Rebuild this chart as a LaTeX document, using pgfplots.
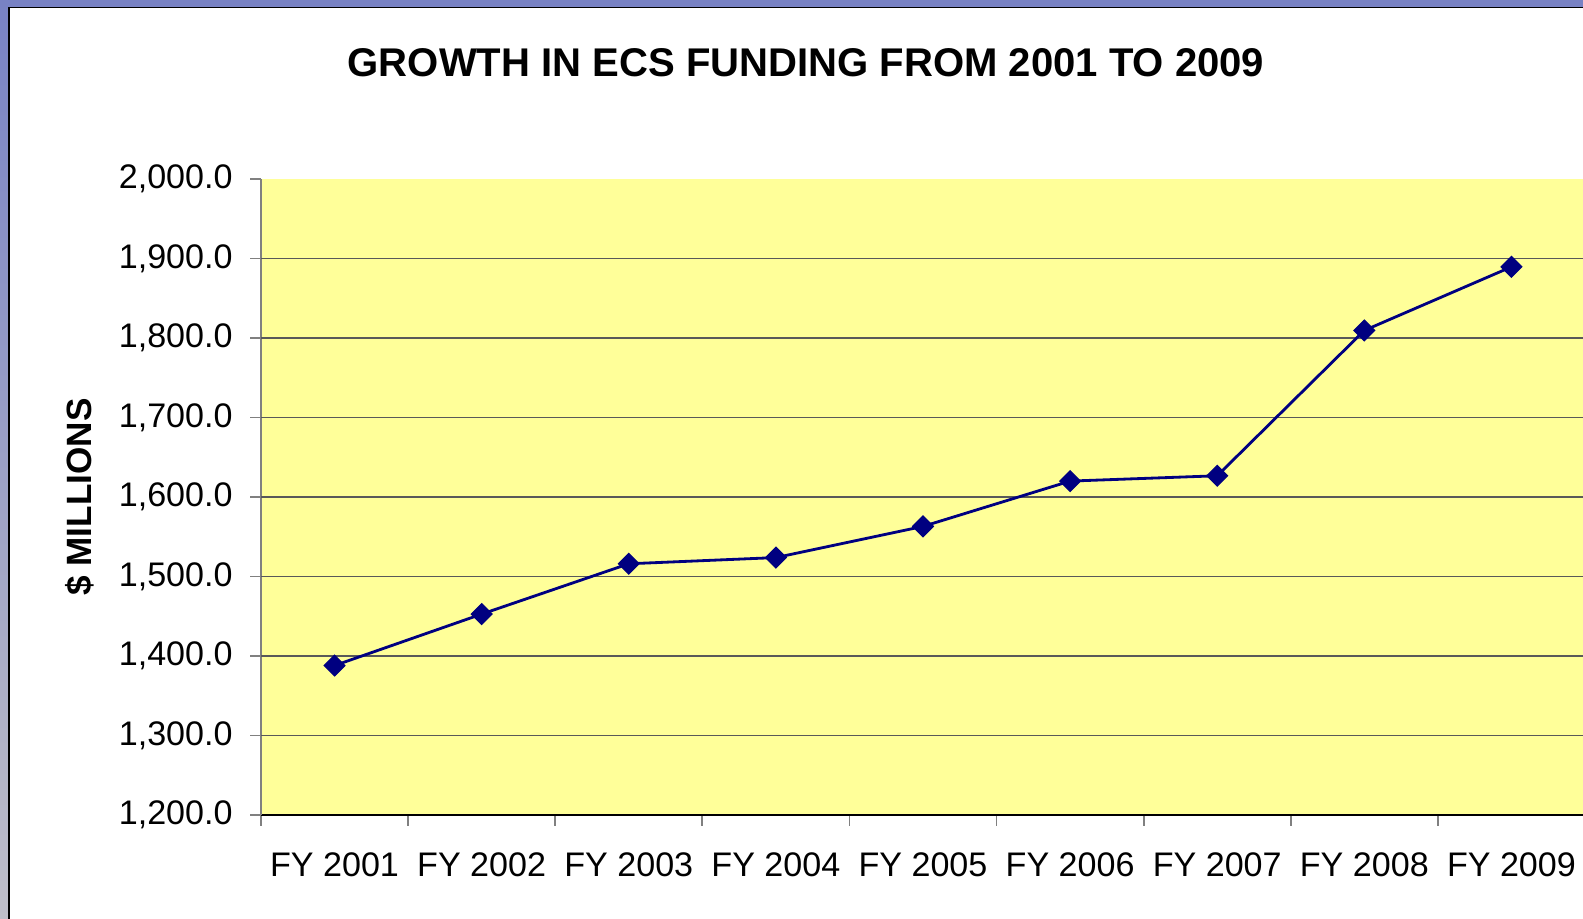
\documentclass[border=0pt]{standalone}
\usepackage{fontspec}
\setmainfont{Liberation Sans}
\usepackage{pgfplots}
\pgfplotsset{compat=1.18}

\definecolor{plotbg}{RGB}{255,255,153}
\definecolor{series}{RGB}{0,0,128}
\definecolor{framebl}{RGB}{120,130,196}
\definecolor{framegr}{RGB}{190,190,200}

\begin{document}
\begin{tikzpicture}
\path[use as bounding box] (0,0) rectangle (15.83,9.19);
\clip (0,0) rectangle (15.83,9.19);
% slide frame
\fill[framebl] (0,9.12) rectangle (15.83,9.19);
\shade[top color=framebl, bottom color=framegr] (0,0) rectangle (0.085,9.19);
\draw[black, line width=0.3pt] (0.09,0) -- (0.09,9.115) -- (15.83,9.115);

\begin{axis}[
	at={(2.61cm,1.04cm)}, anchor=south west,
	scale only axis,
	width=13.24cm, height=6.36cm,
	xmin=-0.5, xmax=8.5,
	ymin=1200, ymax=2000,
	axis x line=bottom, axis y line=left,
	x axis line style={-, black, line width=0.5pt},
	y axis line style={-, gray, line width=0.5pt},
	axis background/.style={fill=plotbg},
	xtick={-0.5,0.5,...,8.5},
	x tick label as interval,
	xticklabels={FY 2001, FY 2002, FY 2003, FY 2004, FY 2005, FY 2006, FY 2007, FY 2008, FY 2009},
	ytick={1200,1300,...,2000},
	extra y ticks={1300,1400,...,1900},
	extra y tick labels={},
	extra y tick style={grid=major, major tick length=0pt},
	tick align=outside,
	major tick length=0.11cm,
	tick style={gray, line width=0.5pt},
	major grid style={black!65, line width=0.45pt},
	/pgf/number format/.cd, fixed, fixed zerofill, precision=1, 1000 sep={,}, assume math mode=true,
	/pgfplots/.cd,
	ticklabel style={font=\fontsize{9.7}{11}\selectfont},
	yticklabel style={xshift=-0.05cm},
	xticklabel style={yshift=-0.14cm},
]
\addplot[color=series, line width=0.8pt, mark=square*,
	mark options={rotate=45, fill=series, draw=series, line width=0.3pt}, mark size=2.1pt]
	coordinates {(0,1388)(1,1452.7)(2,1516)(3,1523.8)(4,1563)(5,1620)(6,1626.7)(7,1809.5)(8,1889.5)};
\end{axis}

\node[font=\fontsize{11.4}{13}\selectfont\bfseries] at (8.06,8.56) {GROWTH IN ECS FUNDING FROM 2001 TO 2009};
\node[font=\fontsize{10}{12}\selectfont\bfseries, rotate=90] at (0.80,4.22) {\$ MILLIONS};
\end{tikzpicture}
\end{document}
